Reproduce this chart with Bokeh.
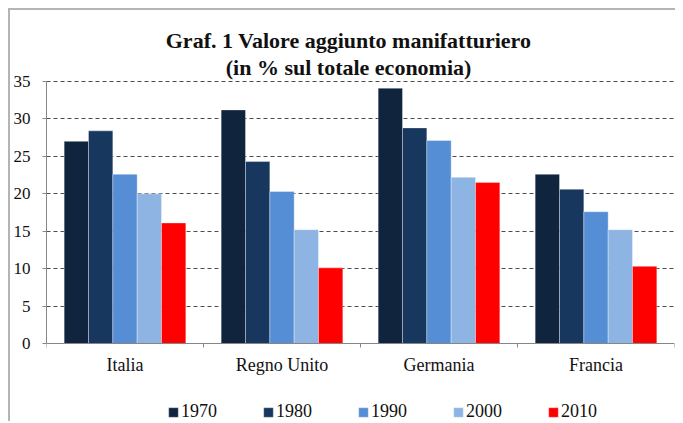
from bokeh.plotting import figure
from bokeh.models import (ColumnDataSource, FactorRange, Range1d, LinearAxis, CategoricalAxis,
                          FixedTicker, Legend, LegendItem, Label)
from bokeh.transform import dodge
from bokeh.embed import file_html
from bokeh.resources import INLINE

# ---- data ----
countries = ["Italia", "Regno Unito", "Germania", "Francia"]
years = ["1970", "1980", "1990", "2000", "2010"]
v1970 = [27.0, 31.2, 34.1, 22.6]
v1980 = [28.4, 24.3, 28.8, 20.6]
v1990 = [22.6, 20.3, 27.1, 17.6]
v2000 = [20.0, 15.2, 22.2, 15.2]
v2010 = [16.1, 10.1, 21.5, 10.3]
y_ticks = [0, 5, 10, 15, 20, 25, 30, 35]
title_lines = ["Graf. 1 Valore aggiunto manifatturiero", "(in % sul totale economia)"]

colors = ["#10243e", "#17375e", "#558ed5", "#8eb4e3", "#ff0000"]
FONT = "Liberation Serif"

src = ColumnDataSource(dict(country=countries, **{"1970": v1970, "1980": v1980,
                                                   "1990": v1990, "2000": v2000, "2010": v2010}))

# frame covers the whole chart area; the value axis spans 0..35
p = figure(width=667, height=413, title=None,
           x_range=FactorRange(factors=countries, range_padding=0, factor_padding=0),
           y_range=Range1d(-10.69, 44.48),
           x_axis_location=None,
           output_backend="svg", toolbar_location=None,
           min_border_left=34, min_border_right=3, min_border_top=0, min_border_bottom=0,
           outline_line_color=None, border_fill_color="white", background_fill_color="white")
p.styles = {"margin": "8px 0px 0px 8px",
            "border-top": "2px solid #b4b4b4", "border-left": "2px solid #b4b4b4"}

# y axis
yax = p.yaxis[0]
yax.ticker = FixedTicker(ticks=y_ticks)
yax.bounds = (y_ticks[0], y_ticks[-1])
yax.axis_line_color = "#868686"
yax.major_tick_line_color = "#868686"
yax.major_tick_out = 4
yax.major_tick_in = 0
yax.minor_tick_line_color = None
yax.major_label_standoff = 12
yax.major_label_text_font = FONT
yax.major_label_text_font_size = "17px"
yax.major_label_text_color = "#111111"

p.xgrid.visible = False
p.ygrid.ticker = FixedTicker(ticks=y_ticks[1:])
p.ygrid.grid_line_color = "#4d4d4d"
p.ygrid.grid_line_dash = "4 3"
p.ygrid.grid_line_width = 1

# x axis at value 0: boundary ticks between categories + category labels
tick_axis = LinearAxis(ticker=FixedTicker(ticks=list(range(len(countries) + 1))),
                       fixed_location=0,
                       major_label_text_font_size="1px", major_label_text_color=None,
                       major_label_standoff=0,
                       major_tick_out=4, major_tick_in=0, minor_tick_line_color=None,
                       axis_line_color="#868686", major_tick_line_color="#868686")
p.add_layout(tick_axis, "below")
cat_axis = CategoricalAxis(fixed_location=0, axis_line_color=None, major_tick_line_color=None,
                           major_tick_out=0, major_tick_in=0,
                           major_label_standoff=12,
                           major_label_text_font=FONT, major_label_text_font_size="18px",
                           major_label_text_color="#111111")
p.add_layout(cat_axis, "below")

# bars
offsets = [-0.31, -0.155, 0.0, 0.155, 0.31]
items = []
for yr, col, off in zip(years, colors, offsets):
    r = p.vbar(x=dodge("country", off, range=p.x_range), top=yr, width=0.155, source=src,
               fill_color=col, line_color="white", line_alpha=0.35, line_width=1)
    items.append(LegendItem(label=yr, renderers=[r]))

legend = Legend(items=items, orientation="horizontal", location=(121, 1),
                glyph_width=12, glyph_height=12, label_standoff=2, spacing=45,
                padding=0, margin=0, border_line_color=None, background_fill_alpha=0,
                label_text_font=FONT, label_text_font_size="18px", label_text_color="#111111")
p.add_layout(legend)

# title (two centred lines)
for txt, yv in zip(title_lines, [40.48, 36.91]):
    p.add_layout(Label(x=1.924, y=yv, text=txt, text_align="center",
                       text_baseline="alphabetic", text_font=FONT, text_font_size="22px",
                       text_font_style="bold", text_color="#111111"))

open("out.html", "w").write(file_html(p, INLINE))
